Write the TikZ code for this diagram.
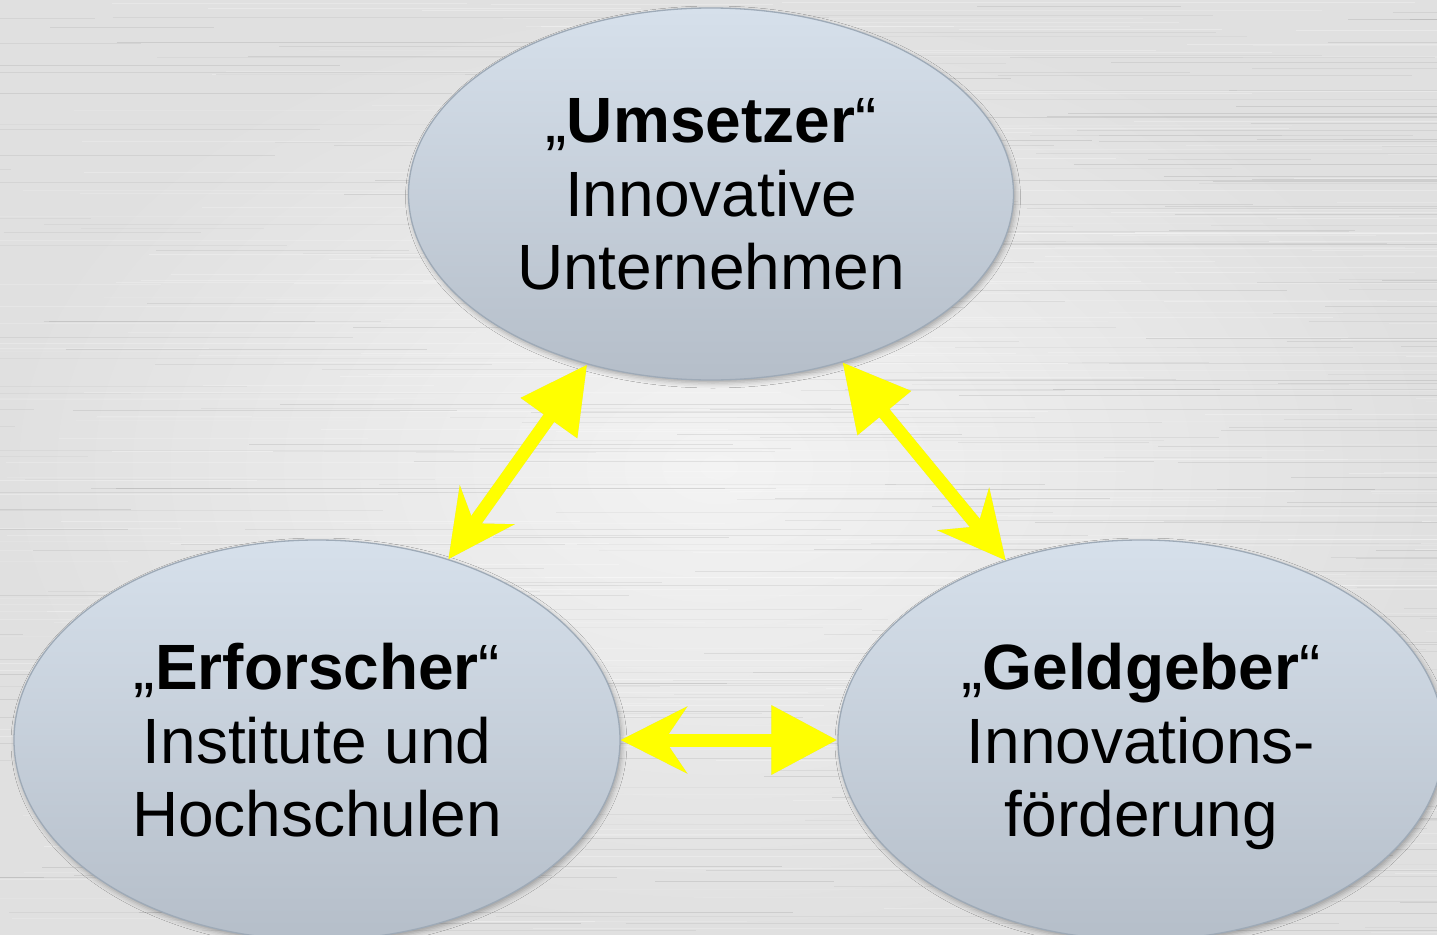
\documentclass[tikz,border=0pt]{standalone}
\usepackage{fontspec}
\setmainfont{Liberation Sans}
\usetikzlibrary{arrows.meta,shapes.geometric,shadows.blur}
\definecolor{bgin}{HTML}{F3F3F3}
\definecolor{bgout}{HTML}{E0E0E0}
\definecolor{elltop}{HTML}{D6E0EB}
\definecolor{ellbot}{HTML}{B5BEC9}
\definecolor{ellline}{HTML}{9EAAB7}
\definecolor{arrowyellow}{HTML}{FFFF00}
\begin{document}
\begin{tikzpicture}[x=1pt,y=-1pt,
  bubble/.style={ellipse, draw=ellline, line width=1.3pt,
    top color=elltop, bottom color=ellbot, inner sep=0pt,
    align=center, text depth=0pt,
    font=\fontsize{64pt}{73.5pt}\selectfont,
    blur shadow={shadow xshift=2pt, shadow yshift=-3pt, shadow blur radius=5pt, shadow opacity=30}},
  link/.style={draw=arrowyellow, line width=13pt},
  linkshadow/.style={draw=black, opacity=0.1, line width=13pt}
]
\useasboundingbox (0,0) rectangle (1437,934);
% background
\fill[inner color=bgin, outer color=bgout] (0,0) rectangle (1437,934);
\begin{scope}
\clip (0,0) rectangle (1437,934);
\pgfmathsetseed{7}
\foreach \i in {1,...,600}{
  \pgfmathsetmacro\yy{934*rnd}
  \pgfmathsetmacro\xx{1637*rnd-200}
  \pgfmathsetmacro\ll{150+600*rnd}
  \pgfmathsetmacro\oo{0.08+0.22*rnd}
  \ifodd\i
    \draw[white, opacity=\oo, line width=1pt] (\xx,\yy) -- ++(\ll,0);
  \else
    \draw[black, opacity=0.3*\oo, line width=0.7pt] (\xx,\yy) -- ++(\ll,0);
  \fi
}
\end{scope}

% ellipses
\node[bubble, minimum width=605pt, minimum height=372pt] (T) at (711,194)
  {„\textbf{Umsetzer}“\\Innovative\\Unternehmen};
\node[bubble, minimum width=606pt, minimum height=400pt] (L) at (317,740)
  {„\textbf{Erforscher}“\\Institute und\\Hochschulen};
\node[bubble, minimum width=606pt, minimum height=400pt] (R) at (1141,740)
  {„\textbf{Geldgeber}“\\Innovations-\\förderung};

% arrow shadows
\begin{scope}[xshift=2pt, yshift=-3pt]
\draw[linkshadow, {Stealth[length=66pt,width=66pt,inset=22pt]}-{Triangle[length=66pt,width=66pt]}] (L.54.7) -- (T.234);
\draw[linkshadow, {Triangle[length=66pt,width=66pt]}-{Stealth[length=66pt,width=66pt,inset=22pt]}] (T.308.4) -- (R.127.8);
\draw[linkshadow, {Stealth[length=66pt,width=66pt,inset=22pt]}-{Triangle[length=66pt,width=66pt]}] (L.east) -- (R.west);
\end{scope}

% arrows
\draw[link, {Stealth[length=66pt,width=66pt,inset=22pt]}-{Triangle[length=66pt,width=66pt]}] (L.54.7) -- (T.234);
\draw[link, {Triangle[length=66pt,width=66pt]}-{Stealth[length=66pt,width=66pt,inset=22pt]}] (T.308.4) -- (R.127.8);
\draw[link, {Stealth[length=66pt,width=66pt,inset=22pt]}-{Triangle[length=66pt,width=66pt]}] (L.east) -- (R.west);
\end{tikzpicture}
\end{document}
